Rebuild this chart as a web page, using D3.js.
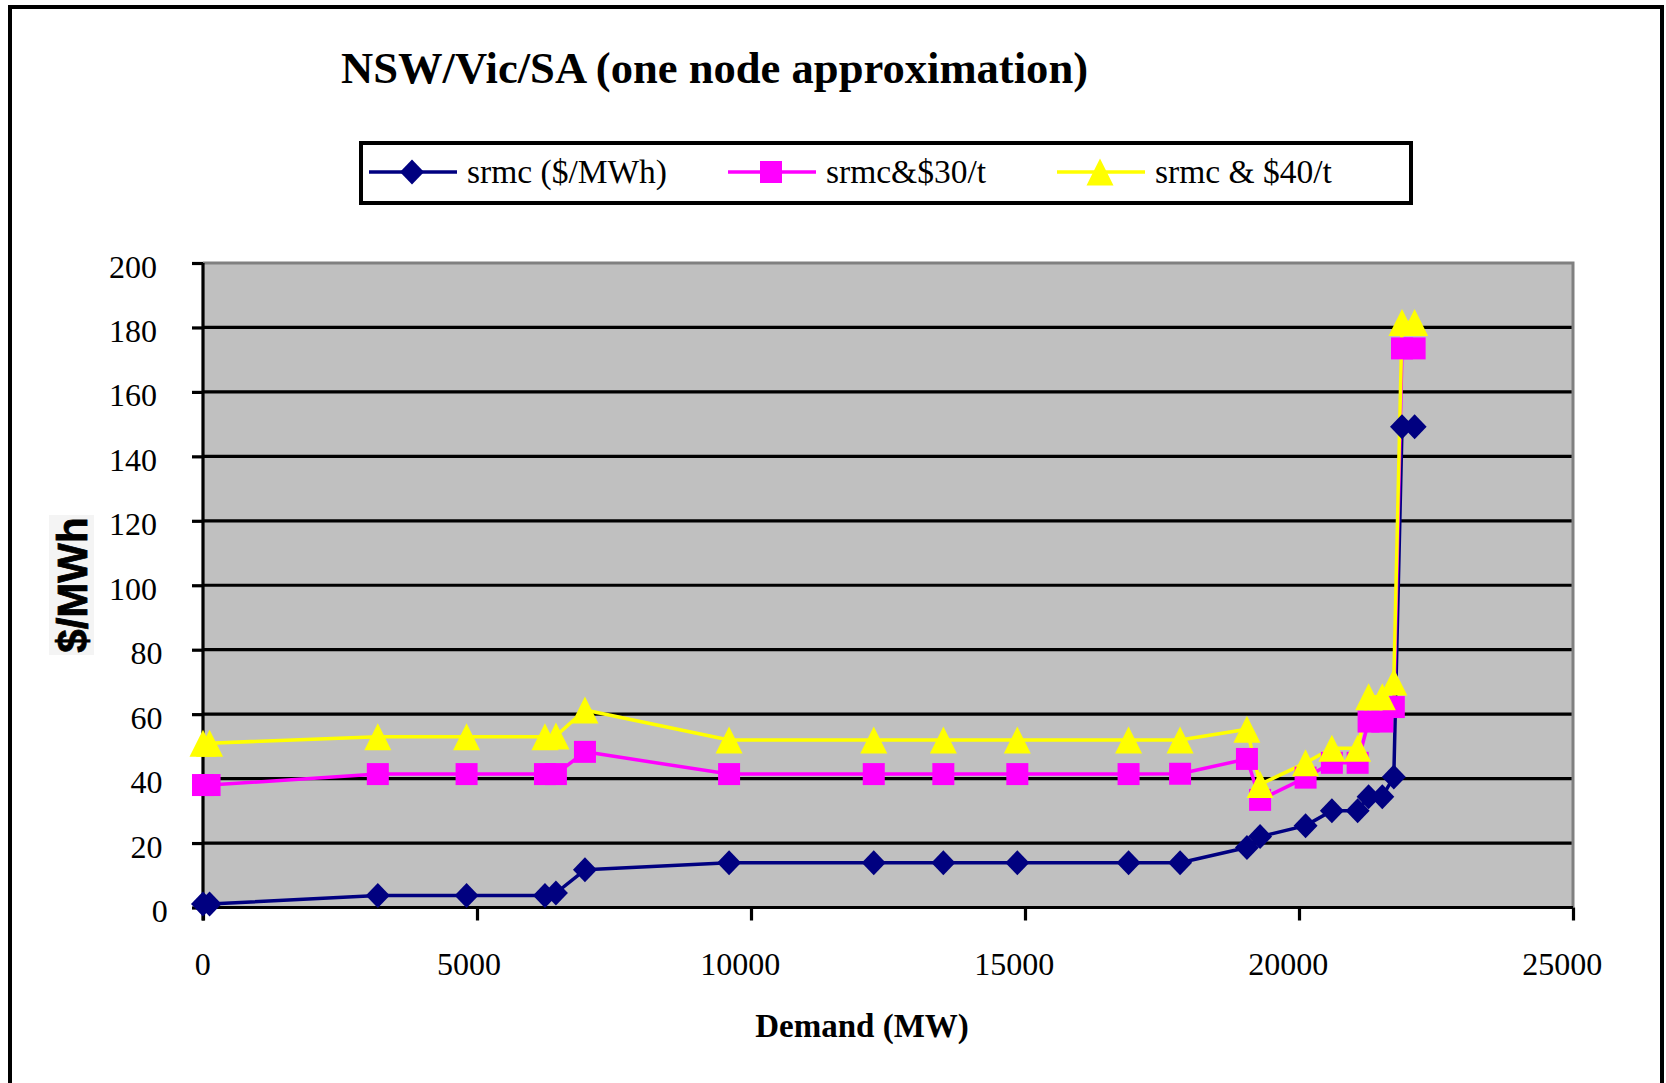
<!DOCTYPE html>
<html>
<head>
<meta charset="utf-8">
<script src="https://cdn.jsdelivr.net/npm/d3@7"></script>
<style>
  body { margin: 0; background: #ffffff; }
  svg { display: block; }
</style>
</head>
<body>
<svg id="chart" width="1666" height="1083"></svg>
<script>
// Demand points (MW) shared by all three supply curves
const demand = [0, 120, 3190, 4810, 6240, 6440, 6970, 9600, 12240, 13510, 14860, 16890,
                17830, 19050, 19290, 20120, 20600, 21070, 21270, 21520, 21730, 21880, 22110];

// Short-run marginal cost, $/MWh
const srmc   = [1.1, 1.1, 3.7, 3.7, 3.7, 4.5, 11.7, 13.9, 13.9, 13.9, 13.9, 13.9,
                13.9, 18.6, 22.0, 25.4, 30.0, 30.0, 34.4, 34.4, 40.5, 149.2, 149.2];
// srmc with a $30/t carbon price
const srmc30 = [38.0, 38.0, 41.4, 41.4, 41.4, 41.4, 48.3, 41.4, 41.4, 41.4, 41.4, 41.4,
                41.5, 46.1, 33.4, 40.3, 44.9, 44.9, 57.7, 57.7, 62.2, 173.5, 173.5];
// srmc with a $40/t carbon price
const srmc40 = [51.0, 51.0, 53.0, 53.0, 53.0, 53.2, 61.3, 52.0, 52.0, 52.0, 52.0, 52.0,
                52.0, 55.3, 38.2, 44.9, 49.4, 49.4, 65.4, 65.4, 70.0, 181.5, 181.5];

const seriesNames = ["srmc ($/MWh)", "srmc&$30/t", "srmc & $40/t"];
const xTicks = [0, 5000, 10000, 15000, 20000, 25000];
const yTicks = [0, 20, 40, 60, 80, 100, 120, 140, 160, 180, 200];

const colors  = ["#000080", "#ff00ff", "#ffff00"];
const shapes  = ["diamond", "square", "triangle"];
const serif = "'Liberation Serif', 'Times New Roman', Times, serif";

const svg = d3.select("#chart");

// Plot frame
const plot = { left: 203, right: 1573, top: 263, bottom: 907.5 };
const x = d3.scaleLinear().domain([0, 25000]).range([plot.left, plot.right]);
const y = d3.scaleLinear().domain([0, 200]).range([plot.bottom, plot.top]);

// Marker outlines centred on the data point
function markerPath(shape) {
  if (shape === "diamond") return "M0,-12.5L12,0L0,12.5L-12,0Z";
  if (shape === "square") return "M-11,-11H11V11H-11Z";
  return "M0,-13.5L13.5,13.5H-13.5Z";
}

// Outer chart border (runs off the bottom of the page)
svg.append("rect")
  .attr("x", 10).attr("y", 7).attr("width", 1652).attr("height", 1120)
  .attr("fill", "none").attr("stroke", "#000").attr("stroke-width", 4);

// Title
svg.append("text")
  .attr("x", 341).attr("y", 83)
  .attr("font-family", serif).attr("font-weight", "bold").attr("font-size", 44.6)
  .text("NSW/Vic/SA (one node approximation)");

// Legend
const legend = svg.append("g");
legend.append("rect")
  .attr("x", 361).attr("y", 143).attr("width", 1050).attr("height", 60)
  .attr("fill", "#fff").attr("stroke", "#000").attr("stroke-width", 4);
const legendX = [369, 728, 1057];
seriesNames.forEach((name, i) => {
  const g = legend.append("g").attr("transform", `translate(${legendX[i]},172)`);
  g.append("line").attr("x1", 0).attr("x2", 88).attr("y1", 0).attr("y2", 0)
    .attr("stroke", colors[i]).attr("stroke-width", 3.5);
  g.append("path").attr("d", markerPath(shapes[i]))
    .attr("transform", "translate(43,0)").attr("fill", colors[i]);
  g.append("text").attr("x", 98).attr("y", 11)
    .attr("font-family", serif).attr("font-size", 33.5).text(name);
});

// Plot background
svg.append("rect")
  .attr("x", plot.left).attr("y", plot.top)
  .attr("width", plot.right - plot.left).attr("height", plot.bottom - plot.top)
  .attr("fill", "#c0c0c0");

// Horizontal gridlines
svg.append("g").selectAll("line")
  .data(yTicks.filter(v => v > 0 && v < 200))
  .join("line")
  .attr("x1", plot.left).attr("x2", plot.right)
  .attr("y1", d => y(d)).attr("y2", d => y(d))
  .attr("stroke", "#000").attr("stroke-width", 3.2);

// Grey top and right edges of the plot area
svg.append("path")
  .attr("d", `M${plot.left},${plot.top}H${plot.right}V${plot.bottom}`)
  .attr("fill", "none").attr("stroke", "#808080").attr("stroke-width", 3);

// Y axis
const yAxis = svg.append("g")
  .attr("transform", `translate(${plot.left},0)`)
  .call(d3.axisLeft(y).tickValues(yTicks).tickSize(11).tickFormat(d3.format("d")));
yAxis.select(".domain").attr("stroke", "#000").attr("stroke-width", 3.2)
  .attr("d", `M0,${plot.top}V${plot.bottom + 13}`);
yAxis.selectAll(".tick line").attr("stroke", "#000").attr("stroke-width", 3.2);
yAxis.selectAll(".tick text")
  .attr("font-family", serif).attr("font-size", 32).attr("fill", "#000")
  .attr("text-anchor", "start").attr("dy", null)
  .attr("x", d => (173 - String(d).length * 21.3) - plot.left)
  .attr("y", 14);

// X axis
const xAxis = svg.append("g")
  .attr("transform", `translate(0,${plot.bottom})`)
  .call(d3.axisBottom(x).tickValues(xTicks).tickSize(13).tickFormat(d3.format("d")));
xAxis.select(".domain").attr("stroke", "#000").attr("stroke-width", 3.2)
  .attr("d", `M${plot.left},0H${plot.right}`);
xAxis.selectAll(".tick line").attr("stroke", "#000").attr("stroke-width", 3.2);
xAxis.selectAll(".tick text")
  .attr("font-family", serif).attr("font-size", 32).attr("fill", "#000")
  .attr("text-anchor", "start").attr("dy", null)
  .attr("x", d => 2 - String(d).length * 10.65)
  .attr("y", 67);

// Axis titles
svg.append("text")
  .attr("x", 862).attr("y", 1037).attr("text-anchor", "middle")
  .attr("font-family", serif).attr("font-weight", "bold").attr("font-size", 33)
  .text("Demand (MW)");

const yTitle = svg.append("g").attr("transform", "translate(71.5,585)");
yTitle.append("rect").attr("x", -22.5).attr("y", -70).attr("width", 45).attr("height", 140)
  .attr("fill", "#f4f4f4");
yTitle.append("text")
  .attr("transform", "rotate(-90)")
  .attr("text-anchor", "middle").attr("dy", "0.36em")
  .attr("font-family", "'Liberation Sans', Arial, sans-serif")
  .attr("font-weight", "bold").attr("font-size", 42)
  .attr("stroke", "#000").attr("stroke-width", 0.8)
  .text("$/MWh");

// Series
const series = [srmc, srmc30, srmc40].map((vals, i) => ({
  name: seriesNames[i], color: colors[i], shape: shapes[i],
  points: demand.map((d, j) => ({ x: d, y: vals[j] }))
}));

const line = d3.line().x(d => x(d.x)).y(d => y(d.y));

svg.append("g").selectAll("path")
  .data(series)
  .join("path")
  .attr("d", s => line(s.points))
  .attr("fill", "none")
  .attr("stroke", s => s.color)
  .attr("stroke-width", 3.5)
  .attr("stroke-linejoin", "round");

series.forEach(s => {
  svg.append("g").selectAll("path")
    .data(s.points)
    .join("path")
    .attr("d", markerPath(s.shape))
    .attr("transform", d => `translate(${x(d.x)},${y(d.y)})`)
    .attr("fill", s.color);
});
</script>
</body>
</html>
